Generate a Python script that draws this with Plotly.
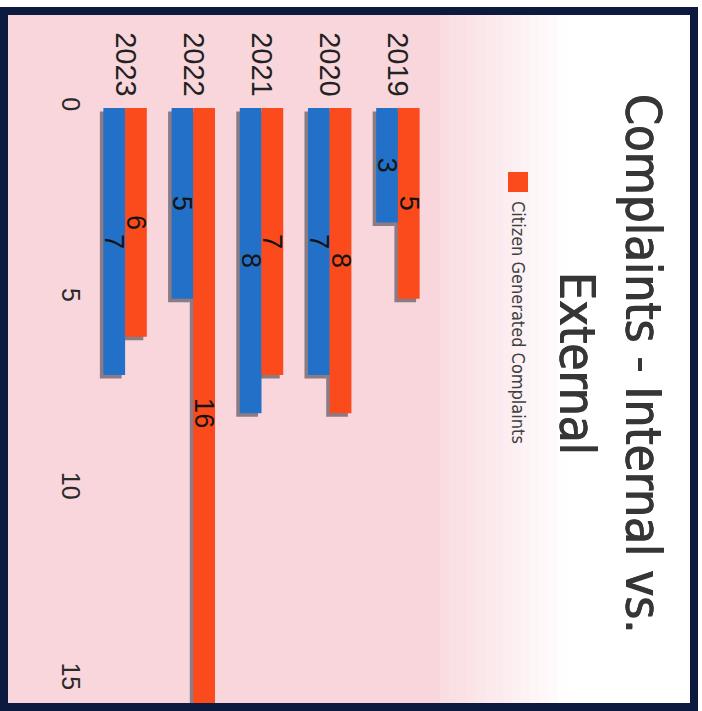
import plotly.graph_objects as go

# Complaint counts per year
years = ["2019", "2020", "2021", "2022", "2023"]
internal_complaints = [3, 7, 8, 5, 7]
citizen_complaints = [5, 8, 7, 16, 6]
value_ticks = [0, 5, 10, 15]

title_lines = ["Complaints - Internal vs.", "External"]
legend_label = "Citizen Generated Complaints"

BLUE = "#2270c8"
ORANGE = "#fb4a1c"
SHADOW = "rgba(50,50,62,0.55)"
NAVY = "#0c1a3f"
PINK = "#f8d6db"
NARROW = "DejaVu Sans Condensed, Liberation Sans, sans-serif"
SANS = "Liberation Sans, Arial, sans-serif"

W, H = 702, 711
ML, MR, MT, MB = 91, 270, 108, 8
PW, PH = W - ML - MR, H - MT - MB
Y_MAX = 15.6


def px(x):
    return (x - ML) / PW


def py(y):
    return (H - MB - y) / PH


order = years[::-1]
dx = 3.5 / (PW / len(years))
dy = 3.5 / (PH / Y_MAX)

fig = go.Figure()

# drop shadows under the bars (drawn on the lower subplot)
for vals in (internal_complaints, citizen_complaints):
    fig.add_trace(go.Bar(
        x=years, y=vals, marker_color=SHADOW, marker_line_width=0,
        xaxis="x", yaxis="y", hoverinfo="skip", showlegend=False,
    ))

label_font = dict(family=SANS, size=27, color="#141414")
fig.add_trace(go.Bar(
    x=years, y=internal_complaints, name="Internal Complaints",
    marker_color=BLUE, marker_line_width=0,
    text=internal_complaints, textposition="inside", textangle=90,
    insidetextanchor="middle", insidetextfont=label_font,
    xaxis="x2", yaxis="y2", showlegend=False,
))
fig.add_trace(go.Bar(
    x=years, y=citizen_complaints, name=legend_label,
    marker_color=ORANGE, marker_line_width=0,
    text=citizen_complaints, textposition="inside", textangle=90,
    insidetextanchor="middle", insidetextfont=label_font,
    xaxis="x2", yaxis="y2", showlegend=False,
))

shapes = [
    dict(type="rect", xref="paper", yref="paper", layer="below",
         x0=px(0), x1=px(440), y0=py(8), y1=py(H),
         fillcolor=PINK, line_width=0),
]
# soft fade of the tinted area towards the white title region
steps = 14
for i in range(steps):
    x0 = 440 + i * 9
    shapes.append(dict(
        type="rect", xref="paper", yref="paper", layer="below",
        x0=px(x0), x1=px(x0 + 9), y0=py(8), y1=py(H),
        fillcolor=PINK, opacity=0.9 * (1 - (i + 1) / (steps + 1)), line_width=0,
    ))
# legend swatch
shapes.append(dict(
    type="rect", xref="paper", yref="paper",
    x0=px(508), x1=px(528), y0=py(172), y1=py(192),
    fillcolor=ORANGE, line_width=0,
))
# outer frame
shapes.append(dict(
    type="rect", xref="paper", yref="paper", layer="above",
    x0=px(4), x1=px(694), y0=py(11), y1=py(707),
    line=dict(color=NAVY, width=8), fillcolor="rgba(0,0,0,0)",
))

title_font = dict(family=NARROW, size=49, color="#363636",
                  shadow="0.8px 0 0 #363636, -0.4px 0 0 #363636")
annotations = [
    dict(text=title_lines[0], x=px(643), y=py(363), xref="paper", yref="paper",
         showarrow=False, textangle=90, xanchor="center", yanchor="middle",
         font=title_font),
    dict(text=title_lines[1], x=px(577), y=py(363), xref="paper", yref="paper",
         showarrow=False, textangle=90, xanchor="center", yanchor="middle",
         font=title_font),
    dict(text=legend_label, x=px(519), y=py(322), xref="paper", yref="paper",
         showarrow=False, textangle=90, xanchor="center", yanchor="middle",
         font=dict(family=NARROW, size=18, color="#404040")),
]

fig.update_layout(
    width=W, height=H,
    margin=dict(l=ML, r=MR, t=MT, b=MB, pad=0),
    paper_bgcolor="white", plot_bgcolor="rgba(0,0,0,0)",
    barmode="group", bargap=0.363, bargroupgap=0,
    showlegend=False,
    uniformtext=dict(minsize=27, mode="show"),
    xaxis=dict(type="category", categoryorder="array", categoryarray=order,
               range=[-0.5 + dx, len(years) - 0.5 + dx], visible=False),
    yaxis=dict(range=[Y_MAX - dy, -dy], visible=False),
    xaxis2=dict(type="category", categoryorder="array", categoryarray=order,
                range=[-0.5, len(years) - 0.5], overlaying="x", side="top",
                tickangle=90, showgrid=False, zeroline=False, showline=False,
                ticks="", ticklabelstandoff=6,
                tickfont=dict(family=SANS, size=29, color="#222222")),
    yaxis2=dict(range=[Y_MAX, 0], overlaying="y", side="left",
                tickvals=value_ticks, tickangle=90, showgrid=False,
                zeroline=False, showline=False, ticks="", ticklabelstandoff=3,
                tickfont=dict(family=SANS, size=25, color="#2a2a2a")),
    shapes=shapes,
    annotations=annotations,
)

fig.write_html("out.html")
